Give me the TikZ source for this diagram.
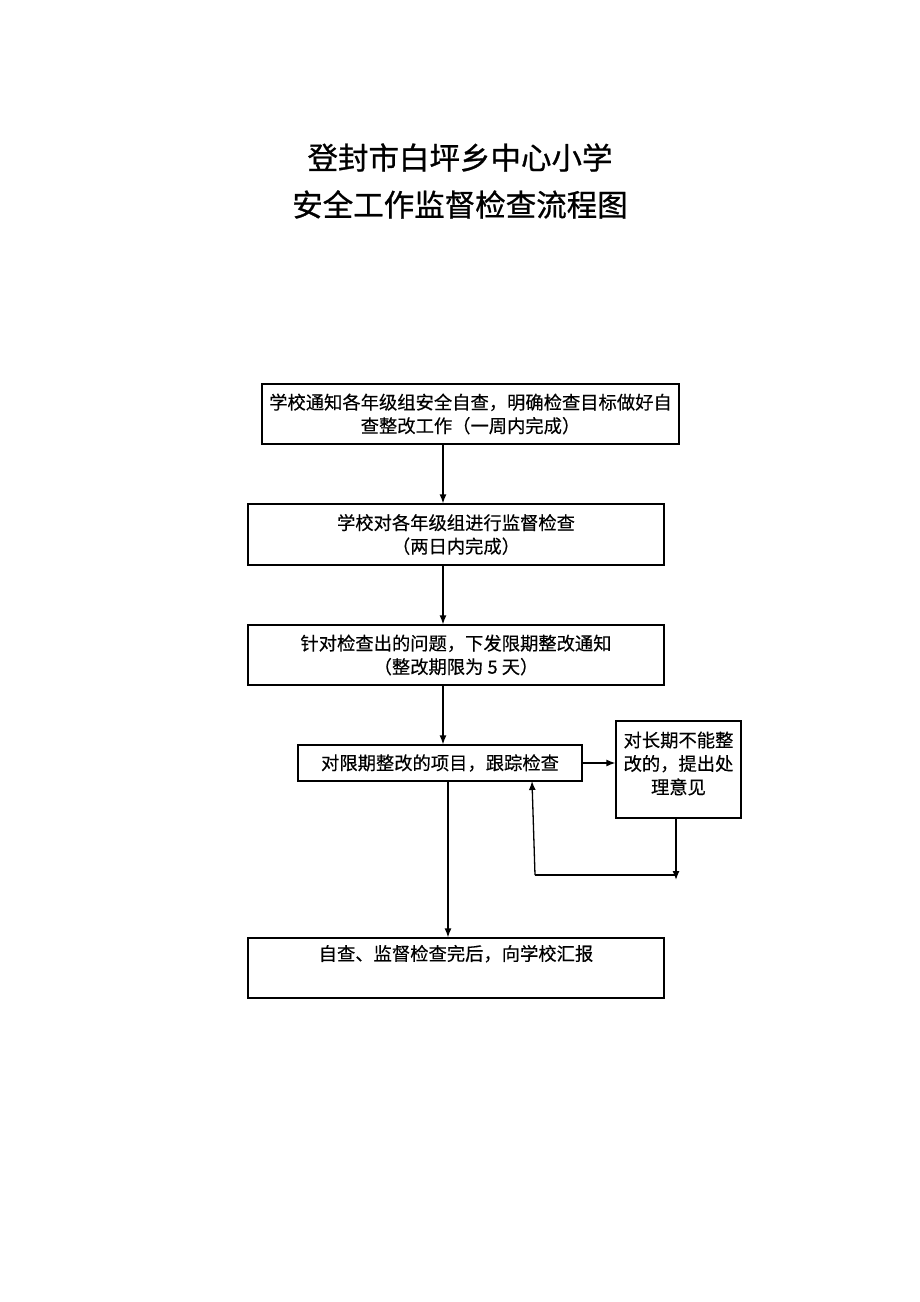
\documentclass[tikz,border=0pt]{standalone}
\usepackage{fontspec}
\setmainfont{Noto Sans CJK SC}
\newfontfamily\bodyfont[FakeBold=0.35]{Noto Sans CJK SC}
\newfontfamily\titlefont[FakeBold=0.8]{Noto Sans CJK SC}
\usetikzlibrary{arrows.meta}
\tikzset{
  box/.style={draw=black, line width=1.3pt, fill=white, inner sep=0pt, align=center, font=\bodyfont\fontsize{18.3}{23.5}\selectfont},
  txt/.style={inner sep=0pt, align=center, font=\bodyfont\fontsize{18.3}{23.5}\selectfont},
  arr/.style={line width=1.3pt, -{Latex[length=9pt,width=7pt]}},
  ln/.style={line width=1.3pt},
  ttl/.style={inner sep=0pt, align=center, font=\titlefont\fontsize{30.5}{47}\selectfont}
}
\begin{document}
\begin{tikzpicture}[x=1pt,y=-1pt]
\useasboundingbox[fill=white] (0,0) rectangle (920,1302);
\node[ttl] (title) at (460,181) {登封市白坪乡中心小学\\安全工作监督检查流程图};
\node[box, minimum width=417pt, minimum height=60pt] (b1) at (470.5,414) {学校通知各年级组安全自查，明确检查目标做好自\\查整改工作（一周内完成）};
\node[box, minimum width=416pt, minimum height=61pt] (b2) at (456,534.5) {学校对各年级组进行监督检查\\（两日内完成）};
\node[box, minimum width=416pt, minimum height=60pt] (b3) at (456,655) {针对检查出的问题，下发限期整改通知\\（整改期限为 5 天）};
\node[box, minimum width=284pt, minimum height=36pt] (b4) at (440,763) {对限期整改的项目，跟踪检查};
\node[box, minimum width=125pt, minimum height=97pt] (b5) at (678.5,769.5) {};
\node[txt] (b5t) at (678.5,763.5) {对长期不能整\\改的，提出处\\理意见};
\node[box, minimum width=416pt, minimum height=60pt] (b6) at (456,968) {自查、监督检查完后，向学校汇报\\ \strut};
\coordinate (c1) at (676,880);
\coordinate (c2) at (535,875);
\draw[arr] (b1.south -| 443,0) -- (b2.north -| 443,0);
\draw[arr] (b2.south -| 443,0) -- (b3.north -| 443,0);
\draw[arr] (b3.south -| 443,0) -- (b4.north -| 443,0);
\draw[arr] (b4.south -| 448,0) -- (b6.north -| 448,0);
\draw[arr] (b4.east) -- (b5.west |- b4.east);
\draw[arr] (b5.south -| c1) -- (c1);
\draw[ln] (c2) -- (c2 -| c1);
\draw[arr] (c2) -- (532,781);
\end{tikzpicture}
\end{document}
